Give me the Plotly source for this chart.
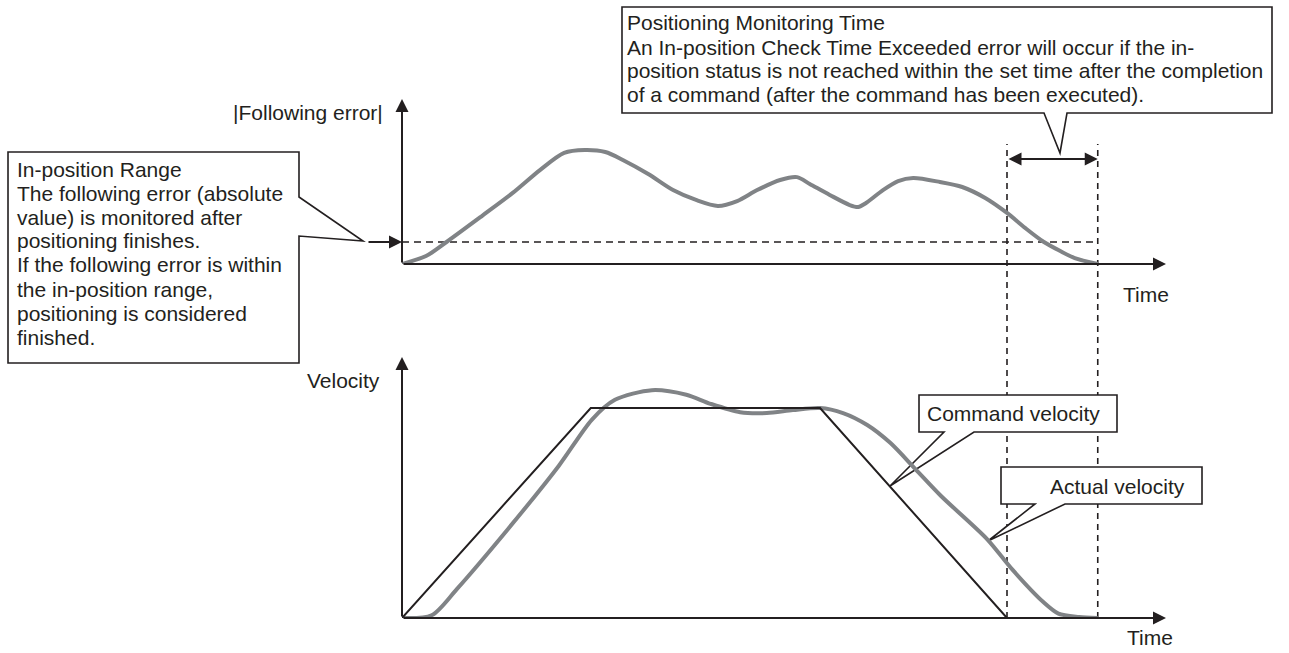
import plotly.graph_objects as go

W, H = 1289, 653
INK = "#231f20"
GREY = "#808386"
FONT = "Liberation Sans, Arial, sans-serif"
FS = 21

# ---- data (arbitrary units: time 0..115, command finishes at t=100) ----
err_t = [0, 3.97, 7.36, 13.2, 18.3, 22.8, 26.8, 30.2, 33.6, 36.5, 40.7, 44.8, 48.6, 52.2,
         55.4, 58.7, 62.5, 65.3, 67.4, 70.7, 74.0, 75.4, 76.7, 79.5, 82.0, 84.5, 88.9,
         92.6, 96.4, 100.0, 103.0, 106.1, 108.8, 111.2, 115.0]
err_v = [0, 0.36, 1.0, 2.18, 3.23, 4.27, 5.05, 5.18, 5.09, 4.73, 4.09, 3.36, 2.91, 2.64,
         2.86, 3.36, 3.82, 3.95, 3.64, 3.14, 2.68, 2.59, 2.77, 3.36, 3.77, 3.91, 3.73,
         3.5, 3.0, 2.32, 1.64, 1.0, 0.59, 0.27, 0]
in_position = 1.0
monitor_start, monitor_end = 100, 115

cmd_t = [0, 31.2, 69.1, 100]
cmd_v = [0, 100, 100, 0]

act_t = [0, 4.9, 9.1, 17.5, 25.9, 31.4, 35.2, 41.3, 47.0, 51.0, 55.9, 60.3, 64.6, 69.1,
         72.9, 76.9, 80.7, 84.9, 89.1, 96.7, 100.9, 106.0, 108.5, 111.9, 115]
act_v = [0, 1.3, 13.9, 42.3, 72.4, 94.5, 103.9, 108.5, 106.3, 102, 98, 97.6, 99, 100,
         97.6, 91.9, 83.4, 70.8, 58.1, 37.6, 23.0, 7.6, 2.1, 0.5, 0]

# ---- geometry of the two panels (pixels) ----
X0, X1 = 402, 1166          # time axis start / arrow tip
PX_PER_T = 6.05
T_MAX = (X1 - X0) / PX_PER_T
TOP_Y0, TOP_Y1 = 264, 99    # top panel axis / arrow tip
E_MAX = (TOP_Y0 - TOP_Y1) / 22
BOT_Y0, BOT_Y1 = 618, 357
V_MAX = (BOT_Y0 - BOT_Y1) / 2.1


def P(x, y):
    return x / W, 1 - y / H


fig = go.Figure()

fig.add_trace(go.Scatter(x=[0, monitor_end], y=[in_position, in_position], mode="lines",
                         line=dict(color=INK, width=1.6, dash="7px,5px"),
                         xaxis="x", yaxis="y", hoverinfo="skip"))
fig.add_trace(go.Scatter(x=err_t, y=err_v, mode="lines", line_shape="spline",
                         line=dict(color=GREY, width=4, smoothing=0.8),
                         xaxis="x", yaxis="y", name="|Following error|"))
fig.add_trace(go.Scatter(x=act_t, y=act_v, mode="lines", line_shape="spline",
                         line=dict(color=GREY, width=4, smoothing=0.8),
                         xaxis="x2", yaxis="y2", name="Actual velocity"))
fig.add_trace(go.Scatter(x=cmd_t, y=cmd_v, mode="lines",
                         line=dict(color=INK, width=2),
                         xaxis="x2", yaxis="y2", name="Command velocity"))

shapes = []
# vertical dashed monitoring lines
for tx in (monitor_start, monitor_end):
    shapes.append(dict(type="line", xref="x", yref="paper", x0=tx, x1=tx,
                       y0=P(0, BOT_Y0)[1], y1=P(0, 144)[1], layer="below",
                       line=dict(color=INK, width=1.6, dash="6px,5px")))


def callout(pts):
    path = "M " + " L ".join(f"{P(x, y)[0]:.5f},{P(x, y)[1]:.5f}" for x, y in pts) + " Z"
    return dict(type="path", xref="paper", yref="paper", path=path, layer="below",
                fillcolor="white", line=dict(color=INK, width=1.6))


shapes.append(callout([(8, 152), (299, 152), (299, 197), (363, 241), (299, 236),
                       (299, 363), (8, 363)]))
shapes.append(callout([(622, 7), (1272, 7), (1272, 113), (1067, 113), (1060, 153),
                       (1044, 113), (622, 113)]))
shapes.append(callout([(919, 395), (1117, 395), (1117, 432), (974, 432), (890, 486),
                       (944, 432), (919, 432)]))
shapes.append(callout([(1001, 467), (1202, 467), (1202, 504), (1065, 504), (988, 541),
                       (1035, 504), (1001, 504)]))

ann = []


def arrow(x, y, ax, ay, xr, yr, side="end"):
    ann.append(dict(x=x, y=y, ax=ax, ay=ay, xref=xr, yref=yr, axref=xr, ayref=yr,
                    text="", showarrow=True, arrowhead=2, arrowsize=1.3, arrowwidth=2,
                    arrowcolor=INK, arrowside=side, standoff=0, startstandoff=0))


arrow(0, E_MAX, 0, 0, "x", "y")
arrow(T_MAX, 0, 0, 0, "x", "y")
arrow(0, V_MAX, 0, 0, "x2", "y2")
arrow(T_MAX, 0, 0, 0, "x2", "y2")
# in-position range marker
ann.append(dict(x=0, y=in_position, xref="x", yref="y", ax=-35, ay=0, text="",
                showarrow=True, arrowhead=2, arrowsize=1.3, arrowwidth=2,
                arrowcolor=INK, standoff=0))
# monitoring time span
ann.append(dict(x=monitor_end, y=P(0, 159)[1], xref="x", yref="paper",
                ax=monitor_start, ay=0, axref="x", ayref="pixel", text="",
                showarrow=True, arrowhead=2, arrowsize=1.3, arrowwidth=2,
                arrowcolor=INK, arrowside="end+start", standoff=0, startstandoff=0))


def label(x, y, text, anchor="left"):
    px, py = P(x, y)
    ann.append(dict(x=px, y=py, xref="paper", yref="paper", text=text, showarrow=False,
                    xanchor=anchor, yanchor="middle",
                    font=dict(family=FONT, size=FS, color=INK)))


left_lines = ["In-position Range", "The following error (absolute",
              "value) is monitored after", "positioning finishes.",
              "If the following error is within", "the in-position range,",
              "positioning is considered", "finished."]
for i, s in enumerate(left_lines):
    label(15, 169 + 24 * i, s)

top_lines = ["Positioning Monitoring Time",
             "An In-position Check Time Exceeded error will occur if the in-",
             "position status is not reached within the set time after the completion",
             "of a command (after the command has been executed)."]
for i, s in enumerate(top_lines):
    label(625, 23 + 24 * i, s)

label(385, 113, "|Following error|", "right")
label(382, 380, "Velocity", "right")
label(1146, 294, "Time", "center")
label(1150, 637, "Time", "center")
label(1013, 413, "Command velocity", "center")
label(1048, 486, "Actual velocity")

xdom = [X0 / W, X1 / W]
fig.update_layout(
    width=W, height=H, margin=dict(l=0, r=0, t=0, b=0),
    paper_bgcolor="white", plot_bgcolor="rgba(0,0,0,0)", showlegend=False,
    xaxis=dict(domain=xdom, range=[0, T_MAX], visible=False, anchor="y"),
    yaxis=dict(domain=[P(0, TOP_Y0)[1], P(0, TOP_Y1)[1]], range=[0, E_MAX],
               visible=False, anchor="x"),
    xaxis2=dict(domain=xdom, range=[0, T_MAX], visible=False, anchor="y2"),
    yaxis2=dict(domain=[P(0, BOT_Y0)[1], P(0, BOT_Y1)[1]], range=[0, V_MAX],
                visible=False, anchor="x2"),
    shapes=shapes, annotations=ann,
)

fig.write_html("out.html", config={"displayModeBar": False},
               post_script="document.body.style.margin='0px';")
